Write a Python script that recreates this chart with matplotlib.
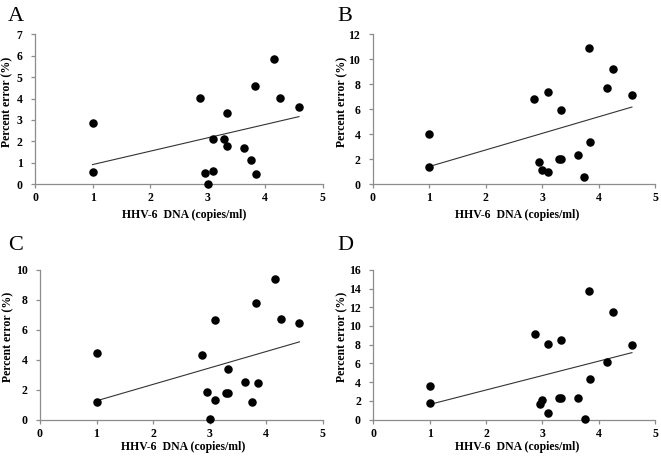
import matplotlib.pyplot as plt
import numpy as np

plt.rcParams['font.family'] = ['Liberation Serif', 'DejaVu Serif']

# HHV-6 DNA (log copies/ml) - shared by all panels
dna = [1.0, 1.0, 2.86, 2.95, 3.0, 3.10, 3.10, 3.29, 3.33, 3.33,
       3.63, 3.75, 3.83, 3.85, 4.15, 4.26, 4.59]

err_a = [0.56, 2.86, 4.02, 0.51, 0.02, 2.09, 0.62, 2.12, 3.33, 1.79,
         1.68, 1.14, 4.58, 0.48, 5.83, 4.02, 3.61]
err_b = [1.40, 3.98, 6.79, 1.76, 1.10, 7.35, 0.94, 2.0, 5.91, 2.0,
         2.33, 0.59, 10.93, 3.39, 7.67, 9.19, 7.11]
err_c = [1.16, 4.45, 4.31, 1.82, 0.05, 6.65, 1.31, 1.76, 3.38, 1.76,
         2.51, 1.16, 7.78, 2.42, 9.38, 6.69, 6.47]
err_d = [1.78, 3.59, 9.14, 1.67, 2.13, 8.04, 0.71, 2.31, 8.53, 2.34,
         2.31, 0.07, 13.73, 4.34, 6.12, 11.52, 7.94]

# name, data, ymax, ystep, axes rect, ylabel x, xlabel (x, y)
panels = [
    ('A', err_a, 7, 1, [0.053, 0.598, 0.435, 0.327], -0.076, (0.52, -0.165)),
    ('B', err_b, 12, 2, [0.564, 0.598, 0.427, 0.327], -0.088, (0.51, -0.165)),
    ('C', err_c, 10, 2, [0.0605, 0.0836, 0.4275, 0.3274], -0.09, (0.506, -0.142)),
    ('D', err_d, 16, 2, [0.565, 0.0836, 0.426, 0.3274], -0.089, (0.51, -0.142)),
]
letter_pos = {'A': (0.012, 0.985), 'B': (0.510, 0.985),
              'C': (0.012, 0.485), 'D': (0.510, 0.485)}

fig = plt.figure(figsize=(6.61, 4.58), dpi=100)
x = np.array(dna)
for name, err, ymax, ystep, rect, ylx, (xlx, xly) in panels:
    ax = fig.add_axes(rect)
    y = np.array(err)
    ax.scatter(x, y, s=26, color='black', zorder=3, clip_on=False)
    k, b = np.polyfit(x, y, 1)
    xs = np.array([x.min(), x.max()])
    ax.plot(xs, k * xs + b, color='#333333', lw=0.8)
    ax.set_xlim(0, 5)
    ax.set_ylim(0, ymax)
    ax.set_xticks(range(0, 6))
    ax.set_yticks(np.arange(0, ymax + 1, ystep))
    for s in ['top', 'right']:
        ax.spines[s].set_visible(False)
    for s in ['left', 'bottom']:
        ax.spines[s].set_color('#8c8c8c')
        ax.spines[s].set_linewidth(0.9)
    ax.tick_params(length=3, width=0.9, color='#8c8c8c', labelsize=8.5)
    ax.tick_params(axis='x', pad=3)
    ax.tick_params(axis='y', pad=6)
    for lab in ax.get_xticklabels() + ax.get_yticklabels():
        lab.set_fontweight('bold')
    ax.set_xlabel('HHV-6  DNA (copies/ml)', fontsize=8.5, fontweight='bold')
    ax.set_ylabel('Percent error (%)', fontsize=8.5, fontweight='bold')
    ax.xaxis.set_label_coords(xlx, xly)
    ax.yaxis.set_label_coords(ylx, 0.55)
    lx, ly = letter_pos[name]
    fig.text(lx, ly, name, fontsize=16, va='top', ha='left')

fig.savefig('out.png', dpi=100)
